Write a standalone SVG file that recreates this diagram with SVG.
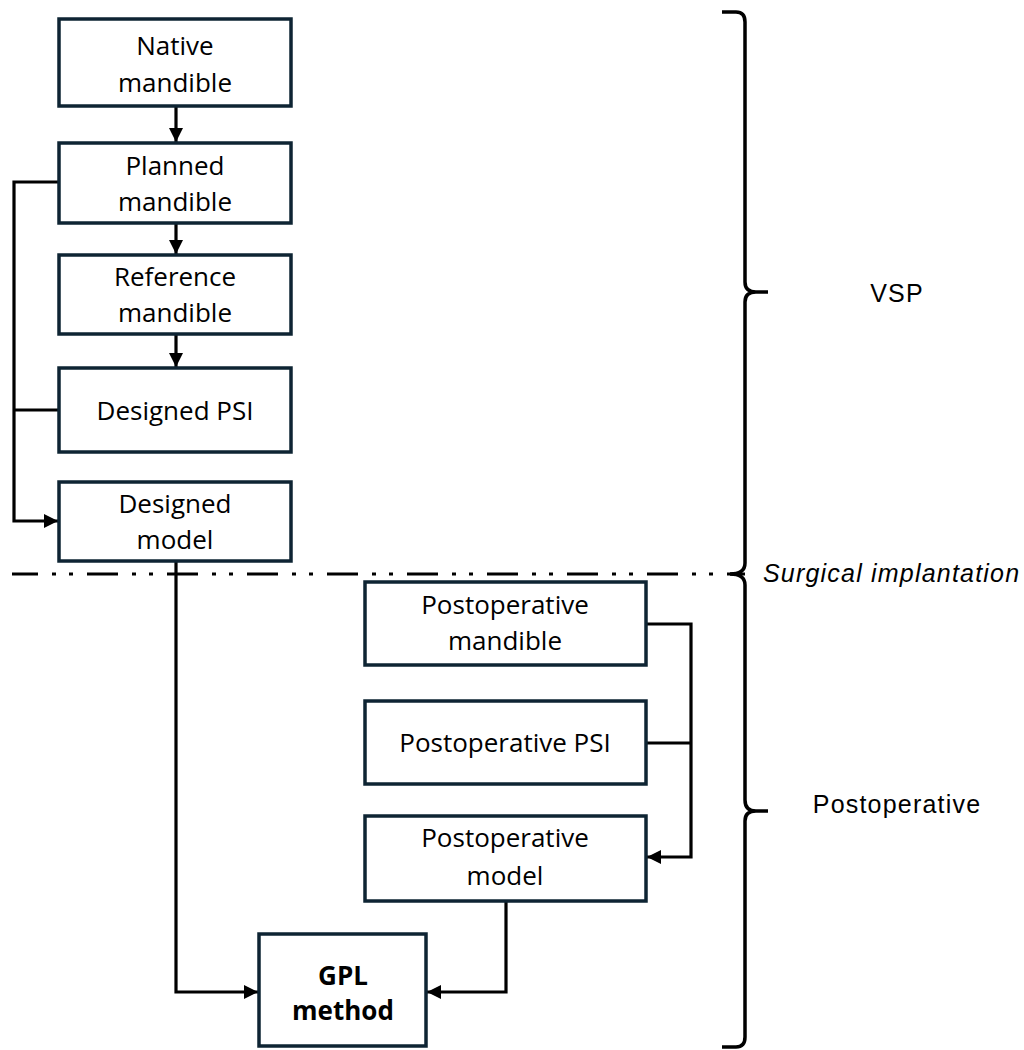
<svg xmlns="http://www.w3.org/2000/svg" width="1024" height="1050" viewBox="0 0 1024 1050">
<defs>
<marker id="ah" markerWidth="14" markerHeight="14" viewBox="0 0 14 14" refX="14" refY="7" orient="auto" markerUnits="userSpaceOnUse">
<path d="M0,0 L14,7 L0,14 Z" fill="#000"/>
</marker>
<style>
.box{fill:#fff;stroke:#0e2433;stroke-width:3.5}
.t{font-family:"Open Sans","Liberation Sans",sans-serif;font-size:26px;fill:#000;text-anchor:middle}
.b{font-weight:bold}
.c{fill:none;stroke:#000;stroke-width:3.2}
.br{fill:none;stroke:#000;stroke-width:3.5;stroke-linecap:butt}
.lab{font-family:"Liberation Sans",Arial,sans-serif;font-size:25px;letter-spacing:1.2px;fill:#000}
</style>
</defs>
<rect width="1024" height="1050" fill="#fff"/>

<g id="connectors">
<line class="c" x1="176" y1="106" x2="176" y2="142" marker-end="url(#ah)"/>
<line class="c" x1="176" y1="223" x2="176" y2="254" marker-end="url(#ah)"/>
<line class="c" x1="176" y1="334" x2="176" y2="367" marker-end="url(#ah)"/>
<polyline class="c" points="59,182 14,182 14,521 58,521" marker-end="url(#ah)"/>
<line class="c" x1="14" y1="410" x2="59" y2="410"/>
<polyline class="c" points="176,561 176,992 258,992" marker-end="url(#ah)"/>
<polyline class="c" points="646,624 691,624 691,857 647,857" marker-end="url(#ah)"/>
<line class="c" x1="646" y1="743" x2="691" y2="743"/>
<polyline class="c" points="506,901 506,992 427,992" marker-end="url(#ah)"/>
</g>

<g id="separator">
<line x1="12" y1="574" x2="745" y2="574" stroke="#000" stroke-width="3" stroke-dasharray="31 14 4 13 4 14" stroke-dashoffset="5"/>
</g>

<g id="n-native"><rect class="box" x="59" y="19" width="232" height="87"/>
<text class="t" x="175" y="55">Native</text><text class="t" x="175" y="92">mandible</text></g>
<g id="n-planned"><rect class="box" x="59" y="143" width="232" height="80"/>
<text class="t" x="175" y="175">Planned</text><text class="t" x="175" y="211">mandible</text></g>
<g id="n-reference"><rect class="box" x="59" y="255" width="232" height="79"/>
<text class="t" x="175" y="286">Reference</text><text class="t" x="175" y="322">mandible</text></g>
<g id="n-dpsi"><rect class="box" x="59" y="368" width="232" height="84"/>
<text class="t" x="175" y="420">Designed PSI</text></g>
<g id="n-dmodel"><rect class="box" x="59" y="482" width="232" height="79"/>
<text class="t" x="175" y="513">Designed</text><text class="t" x="175" y="549">model</text></g>

<g id="n-pmand"><rect class="box" x="365" y="582" width="281" height="83"/>
<text class="t" x="505" y="614">Postoperative</text><text class="t" x="505" y="650">mandible</text></g>
<g id="n-ppsi"><rect class="box" x="365" y="701" width="281" height="83"/>
<text class="t" x="505" y="752">Postoperative PSI</text></g>
<g id="n-pmodel"><rect class="box" x="365" y="816" width="281" height="85"/>
<text class="t" x="505" y="847">Postoperative</text><text class="t" x="505" y="885">model</text></g>

<g id="n-gpl"><rect class="box" x="259" y="934" width="167" height="112"/>
<text class="t b" x="343" y="985">GPL</text><text class="t b" x="343" y="1020">method</text></g>

<g id="braces">
<path class="br" d="M722,12 L736,12 Q745,12 745,22 L745,282 Q745,292 756,292 L768,292 M756,292 Q745,292 745,302 L745,563 Q745,574 730,574 Q745,574 745,585 L745,800 Q745,811 756,811 L768,811 M756,811 Q745,811 745,821 L745,1037 Q745,1047 736,1047 L722,1047"/>
</g>

<g id="labels">
<text class="lab" x="897" y="302" text-anchor="middle">VSP</text>
<text class="lab" x="763" y="582" font-style="italic">Surgical implantation</text>
<text class="lab" x="897" y="813" text-anchor="middle">Postoperative</text>
</g>
</svg>
